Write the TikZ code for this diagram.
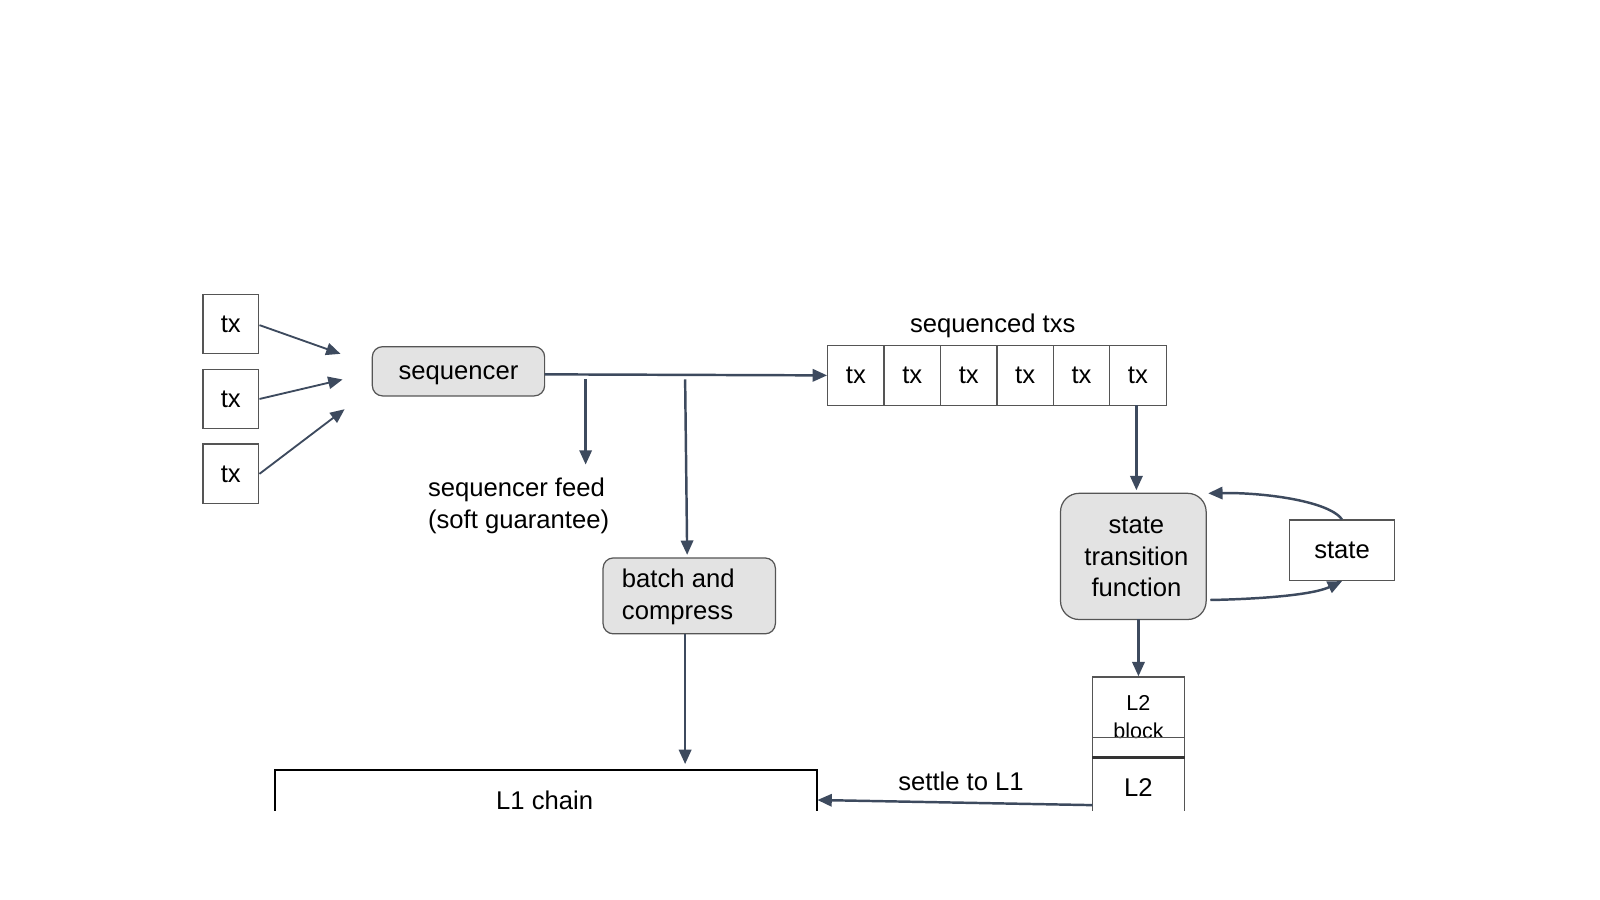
\documentclass[tikz,border=0pt]{standalone}
\usepackage{fontspec}
\setmainfont{Liberation Sans}
\usetikzlibrary{arrows.meta}
\definecolor{arr}{HTML}{3D4A5E}
\definecolor{boxfill}{HTML}{E3E3E3}
\definecolor{bord}{HTML}{555555}
\begin{document}
\begin{tikzpicture}[x=0.5pt,y=-0.5pt,
  box/.style={draw=bord,line width=0.6pt,inner sep=0pt,font=\fontsize{12.5}{14}\selectfont},
  rbox/.style={box,fill=boxfill,rounded corners=5pt},
  conn/.style={draw=arr,line width=1.2pt,-{Triangle[length=7pt,width=6pt]}},
  lbl/.style={font=\fontsize{12.5}{15.5}\selectfont,inner sep=0pt}]
\useasboundingbox (0,0) rectangle (1560,877.5);
\clip (0,0) rectangle (1560,790);
% left txs
\node[box,minimum width=27pt,minimum height=29pt] (t1) at (225,316) {tx};
\node[box,minimum width=27pt,minimum height=29pt] (t2) at (225,389) {tx};
\node[box,minimum width=27pt,minimum height=29pt] (t3) at (225,462) {tx};
\coordinate (e1) at (332,345);
\coordinate (e2) at (334,370);
\coordinate (e3) at (336,399);
\draw[conn,line width=0.9pt] (253,317) -- (e1);
\draw[conn,line width=0.9pt] (253,389) -- (e2);
\draw[conn,line width=0.9pt] (253,462) -- (e3);
% sequencer
\node[rbox,minimum width=84pt,minimum height=24pt] (seq) at (447,362) {};
\node[lbl] (seqt) at (447,366) {sequencer};
% sequenced txs
\foreach \i in {0,...,5}{
  \node[box,minimum width=27.5pt,minimum height=29pt] (s\i) at ({834.5+\i*55},366) {tx};
}
\node[lbl] (stxt) at (968,318) {sequenced txs};
\draw[conn] (531,365) -- (s0.west);
\coordinate (b1) at (571,370);
\coordinate (f1) at (571,453);
\draw[conn] (b1) -- (f1);
\node[lbl,align=left,anchor=north west] (feed) at (417,466) {sequencer feed\\(soft guarantee)};
% batch
\node[rbox,minimum width=84pt,minimum height=37pt] (batch) at (672,581) {};
\node[lbl,align=left,anchor=west] (batcht) at (606,582) {batch and\\compress};
\coordinate (b2) at (668,370);
\draw[conn] (b2) -- (670,541);
% L1 chain
\node[box,line width=0.9pt,draw=black,minimum width=264.5pt,minimum height=60pt,anchor=north west] (l1) at (267,750) {};
\node[lbl] (l1t) at (531,780) {L1 chain};
\draw[conn] (668,618) -- (668,745);
% STF
\node[rbox,rounded corners=9pt,minimum width=71pt,minimum height=61.5pt] (stf) at (1105,542.5) {};
\node[lbl,align=center] (stft) at (1108,543) {state\\transition\\function};
\draw[conn] (1108,395) -- (1108,478);
\node[box,minimum width=51.5pt,minimum height=29.5pt] (st) at (1308.5,536.5) {state};
\draw[conn] (st.north) .. controls (1295,488) and (1230,480) .. (1178,481);
\draw[conn] (1180,585) .. controls (1230,584) and (1280,580) .. (st.south);
% L2
\node[box,minimum width=45pt,minimum height=39.5pt] (l2b) at (1110,699.5) {};
\node[inner sep=0pt,align=center,font=\fontsize{10.5}{13.5}\selectfont] (l2bt) at (1110,699) {L2\\block};
\node[box,minimum width=45pt,minimum height=40pt] (l2) at (1110,759) {};
\node[lbl] (l2t) at (1110,768) {L2};
\draw[line width=1.5pt,draw=black!80] (1065,739) -- (1155,739);
\draw[conn] (1110,604) -- (l2b.north);
\draw[conn] (1065,785) -- (797,780);
\node[lbl] (settle) at (937,762) {settle to L1};
\end{tikzpicture}
\end{document}
